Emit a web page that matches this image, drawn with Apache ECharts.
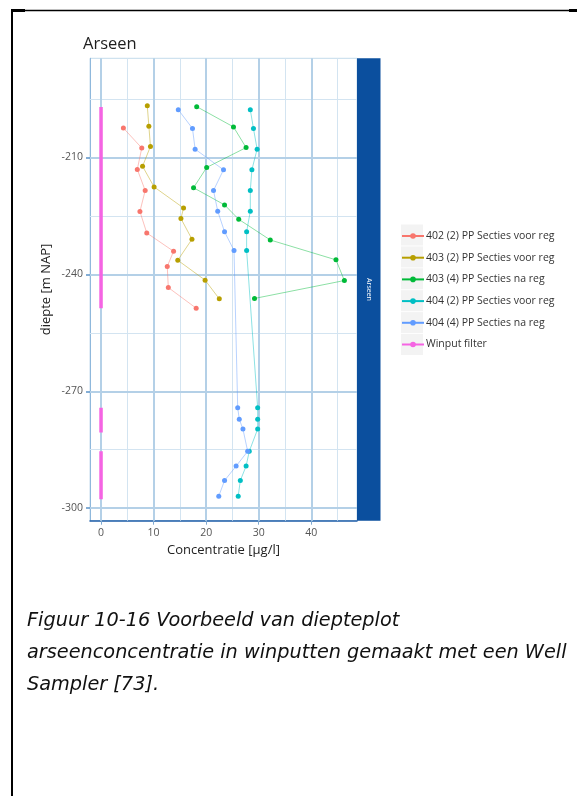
<!DOCTYPE html>
<html>
<head>
<meta charset="utf-8">
<script src="https://cdn.jsdelivr.net/npm/echarts@6/dist/echarts.min.js"></script>
<style>
  html, body { margin: 0; padding: 0; background: #fff; }
  #chart { width: 577px; height: 796px; }
</style>
</head>
<body>
<div id="chart"></div>
<script>
// Depth samples (m NAP) and arsenic concentrations (µg/l) per well section
const seriesNames = [
  '402 (2) PP Secties voor reg',
  '403 (2) PP Secties voor reg',
  '403 (4) PP Secties na reg',
  '404 (2) PP Secties voor reg',
  '404 (4) PP Secties na reg',
  'Winput filter'
];

const depth402_2 = [-202.5, -207.6, -213.1, -218.5, -223.9, -229.4, -234.1, -238.0, -243.4, -248.7];
const conc402_2  = [4.25, 7.75, 6.9, 8.4, 7.4, 8.7, 13.8, 12.6, 12.8, 18.1];

const depth403_2 = [-196.8, -202.0, -207.2, -212.3, -217.6, -223.0, -225.7, -231.0, -236.4, -241.5, -246.3];
const conc403_2  = [8.8, 9.1, 9.4, 7.9, 10.1, 15.7, 15.2, 17.3, 14.6, 19.8, 22.5];

const depth403_4 = [-197.0, -202.2, -207.5, -212.6, -217.8, -222.2, -225.9, -231.2, -236.3, -241.6, -246.2];
const conc403_4  = [18.2, 25.2, 27.6, 20.1, 17.6, 23.5, 26.2, 32.2, 44.7, 46.3, 29.2];

const depth404_2 = [-197.8, -202.6, -207.9, -213.2, -218.5, -223.8, -229.1, -233.9, -274.2, -277.2, -279.7, -285.4, -289.2, -292.9, -296.9];
const conc404_2  = [28.4, 29.0, 29.7, 28.7, 28.4, 28.4, 27.7, 27.7, 29.8, 29.8, 29.8, 28.2, 27.6, 26.5, 26.1];

const depth404_4 = [-197.8, -202.6, -207.9, -213.2, -218.5, -223.8, -229.1, -233.9, -274.2, -277.2, -279.7, -285.4, -289.2, -292.9, -296.9];
const conc404_4  = [14.7, 17.4, 17.9, 23.3, 21.4, 22.2, 23.5, 25.3, 26.0, 26.3, 27.0, 27.9, 25.7, 23.5, 22.4];

// Well screen (filter) intervals, drawn at concentration 0
const filterTop    = [-197.1, -274.2, -285.4];
const filterBottom = [-248.7, -280.6, -297.7];

// Axis ticks and grid
const yTicks      = [-210, -240, -270, -300];
const yMinorGrid  = [-195, -225, -255, -285];
const xTicks      = [0, 10, 20, 30, 40];
const xMinorGrid  = [5, 15, 25, 35, 45];

const colors = ['#F8766D', '#B79F00', '#00BA38', '#00BFC4', '#619CFF', '#F564E3'];
const fontFamily = '"Open Sans", "Noto Sans", sans-serif';
const captionFont = '"DejaVu Sans", sans-serif';

function pairs(xs, ys) { return xs.map((x, i) => [x, ys[i]]); }

const filterData = [];
filterTop.forEach((t, i) => {
  filterData.push([0, t], [0, filterBottom[i]]);
  if (i < filterTop.length - 1) filterData.push([0, '-']);
});

const pointSeries = [
  pairs(conc402_2, depth402_2),
  pairs(conc403_2, depth403_2),
  pairs(conc403_4, depth403_4),
  pairs(conc404_2, depth404_2),
  pairs(conc404_4, depth404_4)
].map((data, i) => ({
  name: seriesNames[i],
  type: 'line',
  data: data,
  z: 3,
  symbol: 'circle',
  symbolSize: 5,
  itemStyle: { color: colors[i] },
  lineStyle: { width: 1, opacity: 0.45, color: colors[i] },
  animation: false
}));

const gridLine = (vals, axis, width, color) => vals.map(v => ({
  [axis]: v, lineStyle: { width: width, color: color, type: 'solid' }
}));

const chart = echarts.init(document.getElementById('chart'), null, { renderer: 'canvas' });

const plotTop = 58.3, plotLeft = 90, plotW = 267, plotH = 462.4;

chart.setOption({
  backgroundColor: '#ffffff',
  animation: false,
  color: colors,
  textStyle: { fontFamily: fontFamily },
  title: {
    text: 'Arseen',
    left: 78, top: 31,
    textStyle: { fontFamily: fontFamily, fontSize: 16.5, fontWeight: 'normal', color: '#1e1e1e' }
  },
  grid: {
    left: plotLeft, top: plotTop, width: plotW, height: plotH,
    show: true, borderColor: '#c4dbec', borderWidth: 1, backgroundColor: '#ffffff'
  },
  legend: {
    orient: 'vertical',
    left: 401, top: 230.5,
    itemWidth: 22, itemHeight: 7, itemGap: 10.7,
    padding: 0,
    data: seriesNames,
    lineStyle: { width: 2, opacity: 1 },
    textStyle: { fontFamily: fontFamily, fontSize: 10.5, color: '#333333', padding: [0, 0, 0, -3] }
  },
  xAxis: {
    type: 'value', min: -2.1, max: 48.7,
    name: 'Concentratie [µg/l]', nameLocation: 'middle', nameGap: 23,
    nameTextStyle: { fontFamily: fontFamily, fontSize: 13, color: '#222' },
    axisLine: { show: true, onZero: false, lineStyle: { color: '#1f5ea8', width: 1.5 } },
    axisTick: { show: true, customValues: xTicks, length: 4, lineStyle: { color: '#7fa9d0' } },
    axisLabel: { customValues: xTicks, color: '#555', fontSize: 10.5, margin: 7, fontFamily: fontFamily },
    splitLine: { show: false }
  },
  yAxis: {
    type: 'value', min: -303.2, max: -184.6,
    name: 'diepte [m NAP]', nameLocation: 'middle', nameGap: 37,
    nameTextStyle: { fontFamily: fontFamily, fontSize: 13, color: '#222' },
    axisLine: { show: true, onZero: false, lineStyle: { color: '#8fb8dc', width: 1 } },
    axisTick: { show: true, customValues: yTicks, length: 4, lineStyle: { color: '#5b93c8', width: 1.5 } },
    axisLabel: { customValues: yTicks, color: '#555', fontSize: 10.5, margin: 7, fontFamily: fontFamily },
    splitLine: { show: false }
  },
  series: [
    {
      name: 'grid',
      type: 'line',
      data: [],
      z: 1,
      silent: true,
      markLine: {
        z: 1,
        silent: true,
        symbol: ['none', 'none'],
        label: { show: false },
        animation: false,
        data: [].concat(
          gridLine(yMinorGrid, 'yAxis', 1, '#d3e4f1'),
          gridLine(xMinorGrid, 'xAxis', 1, '#d3e4f1'),
          gridLine(yTicks, 'yAxis', 2, '#b4d0e7'),
          gridLine(xTicks, 'xAxis', 2, '#b4d0e7')
        )
      }
    },
    ...pointSeries,
    {
      name: seriesNames[5],
      type: 'line',
      data: filterData,
      z: 4,
      symbol: 'circle',
      symbolSize: 5,
      showSymbol: false,
      connectNulls: false,
      itemStyle: { color: colors[5] },
      lineStyle: { width: 3.5, color: colors[5], opacity: 1 },
      animation: false
    }
  ],
  graphic: [
    // page frame
    { type: 'line', shape: { x1: 11, y1: 10.5, x2: 577, y2: 10.5 }, style: { stroke: '#000', lineWidth: 1.5 } },
    { type: 'line', shape: { x1: 11, y1: 10.5, x2: 25, y2: 10.5 }, style: { stroke: '#000', lineWidth: 3 } },
    { type: 'line', shape: { x1: 569, y1: 10.5, x2: 577, y2: 10.5 }, style: { stroke: '#000', lineWidth: 3 } },
    { type: 'line', shape: { x1: 12, y1: 10, x2: 12, y2: 796 }, style: { stroke: '#000', lineWidth: 2 } },
    // facet strip
    { type: 'rect', shape: { x: plotLeft + plotW, y: plotTop, width: 23.5, height: plotH }, style: { fill: '#0b4f9e' }, z: 10 },
    { type: 'text', x: plotLeft + plotW + 11.5, y: plotTop + plotH / 2, rotation: -Math.PI / 2, z: 11,
      style: { text: 'Arseen', fill: '#ffffff', font: '7px ' + fontFamily, align: 'center', verticalAlign: 'middle' } },
    // legend key backgrounds
    ...[0, 1, 2, 3, 4, 5].map(i => ({
      type: 'rect', shape: { x: 401, y: 224.5 + i * 21.9, width: 22, height: 21 }, style: { fill: '#f3f3f3' }, z: -1
    })),
    // caption
    ...['Figuur 10-16 Voorbeeld van diepteplot',
        'arseenconcentratie in winputten gemaakt met een Well',
        'Sampler [73].'].map((t, i) => ({
      type: 'text', x: 27, y: 621 + i * 32,
      style: { text: t, fill: '#111', font: 'italic 19.3px ' + captionFont, verticalAlign: 'middle' }
    }))
  ]
});
</script>
</body>
</html>
